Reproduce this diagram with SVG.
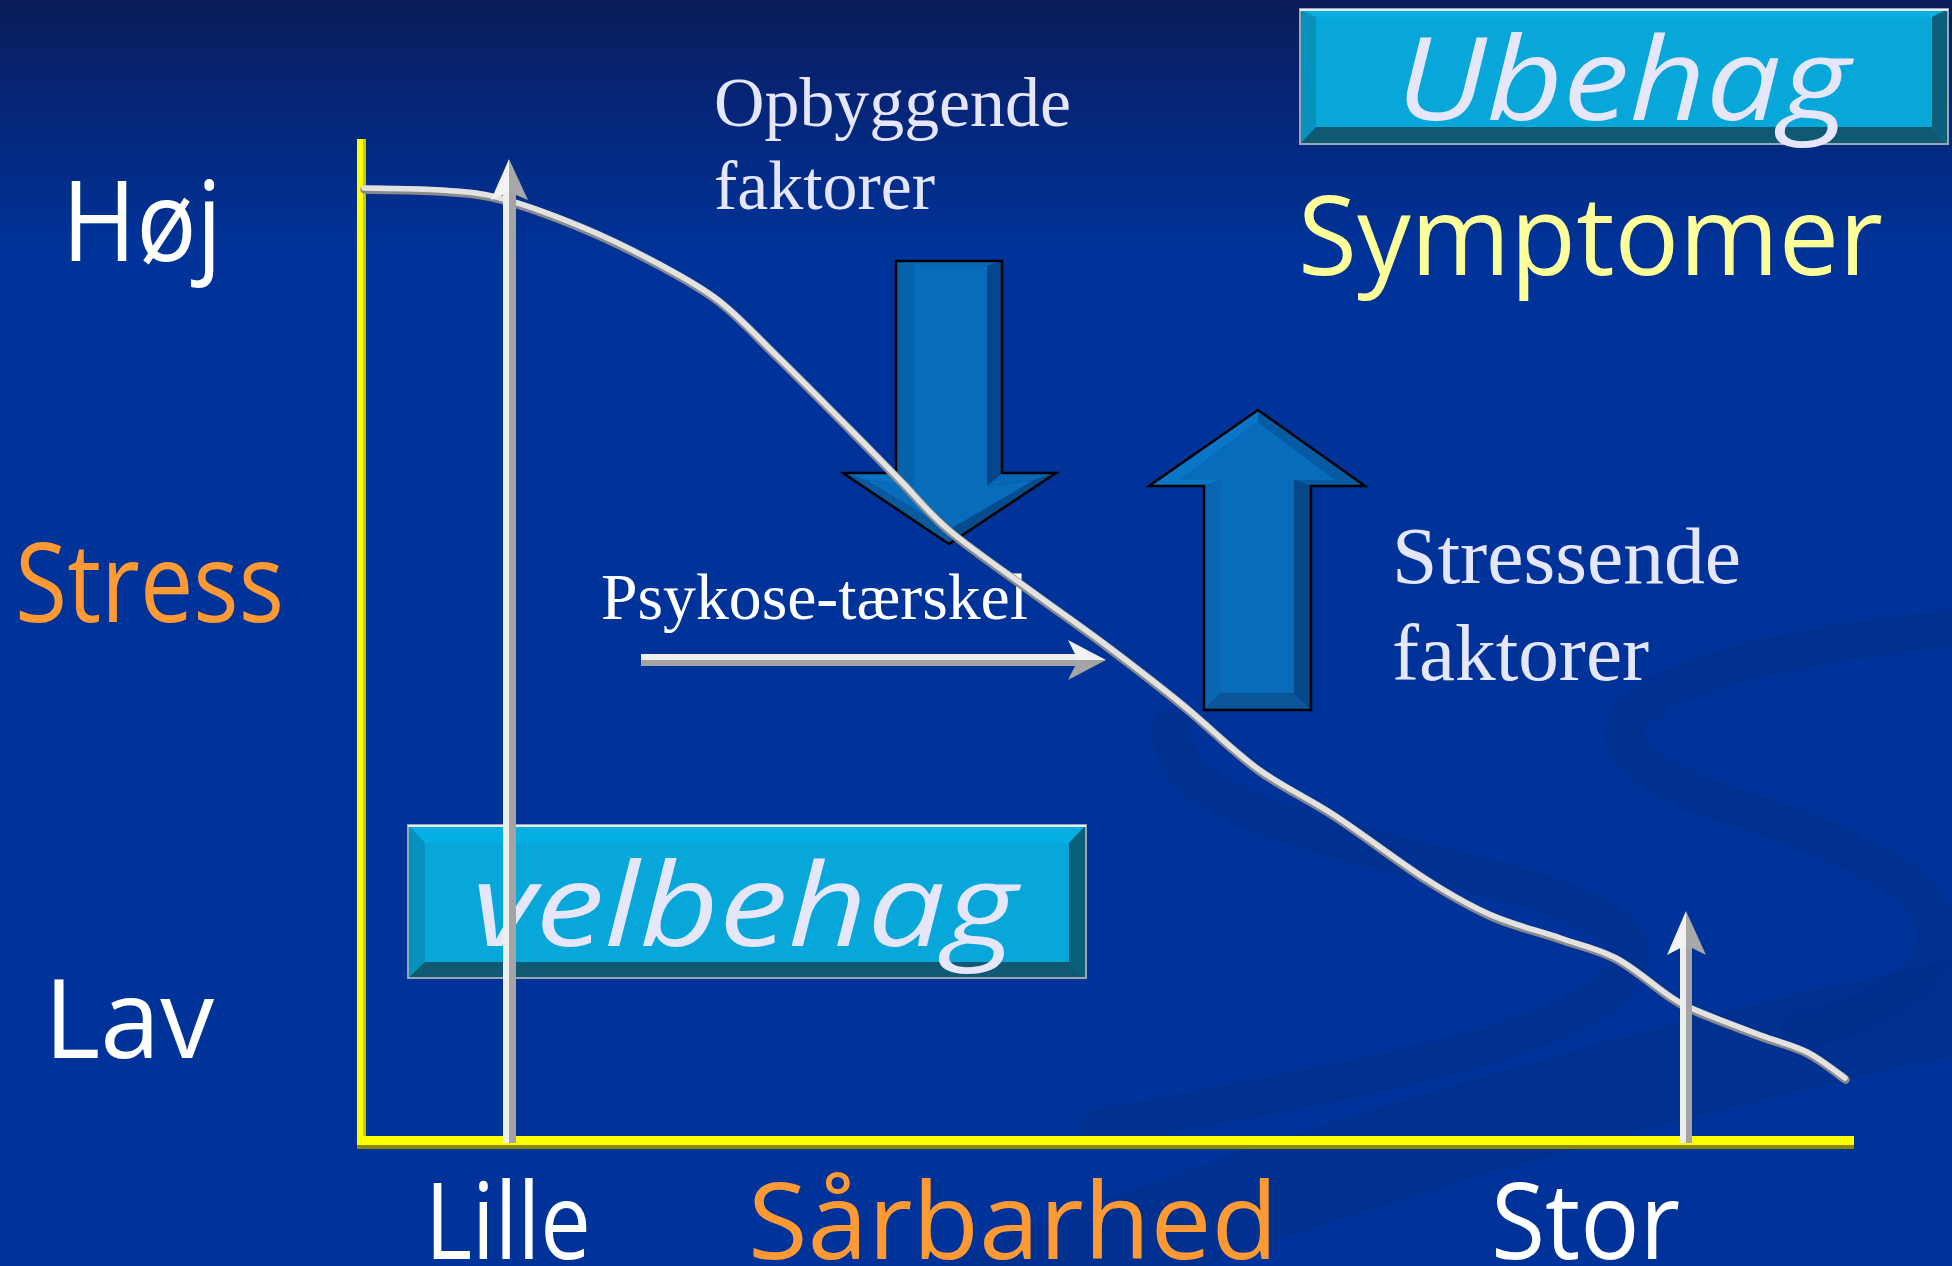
<svg xmlns="http://www.w3.org/2000/svg" width="1952" height="1266" viewBox="0 0 1952 1266">
<defs>
<linearGradient id="bg" x1="0" y1="0" x2="0" y2="1266" gradientUnits="userSpaceOnUse">
<stop offset="0" stop-color="#0a1c58"/>
<stop offset="0.08" stop-color="#062577"/>
<stop offset="0.2" stop-color="#003399"/>
<stop offset="1" stop-color="#003399"/>
</linearGradient>
<style>
.sans{font-family:"Open Sans","Liberation Sans",sans-serif;}
.serif{font-family:"Liberation Serif","Times New Roman",serif;fill:#e6e6fa;}
.white{fill:#ffffff;}
.orange{fill:#ff9933;}
.lav{fill:#e6e6fa;}
.swoosh{fill:none;stroke:#002e88;stroke-opacity:0.55;stroke-linecap:round;}
.hl{fill:#eeeeee;}
.sh{fill:#a4a4a4;}
.bout{fill:none;stroke:#000;stroke-width:2.5;stroke-linejoin:miter;}
</style>
</defs>
<rect x="0" y="0" width="1952" height="1266" fill="url(#bg)"/>
<g id="background-swooshes">
<path class="swoosh" stroke-width="95" d="M 980 1300 C 1300 1170 1650 1070 1990 1000"/>
<path class="swoosh" stroke-width="38" d="M 1171 727 C 1170 790 1260 822 1400 855 C 1520 885 1620 910 1630 950 C 1640 1000 1500 1050 1372 1075 C 1250 1100 1150 1118 1100 1128"/>
<path class="swoosh" stroke-width="38" d="M 1990 625 C 1800 640 1640 680 1625 725 C 1615 765 1680 790 1760 815 C 1880 855 1960 900 1930 960 C 1905 1000 1850 1020 1800 1030"/>
</g>

<g id="axes">
<rect x="357" y="139" width="9" height="1004" fill="#ffff00"/>
<rect x="363" y="139" width="3" height="1004" fill="#c8c800"/>
<rect x="357" y="1136" width="1497" height="9" fill="#ffff00"/>
<rect x="357" y="1145" width="1497" height="4" fill="#8a8a00"/>
</g>

<g id="node-ubehag">
<rect x="1300" y="9" width="648" height="135" fill="#07a7da"/>
<polygon points="1300,9 1948,9 1932,17 1316,17" fill="#03afe3"/>
<polygon points="1300,9 1316,17 1316,127 1300,144" fill="#0792bd"/>
<polygon points="1948,9 1932,17 1932,127 1948,144" fill="#0c5f7b"/>
<polygon points="1300,144 1316,127 1932,127 1948,144" fill="#0f5a72"/>
<rect x="1300" y="9" width="648" height="135" fill="none" stroke="#9aa6b4" stroke-width="2"/>
<line x1="1300" y1="10" x2="1948" y2="10" stroke="#e4ecf4" stroke-width="2"/>
<text class="sans lav" x="1396" y="120" font-size="116" font-style="italic" textLength="454" lengthAdjust="spacingAndGlyphs">Ubehag</text>
</g>

<g id="node-velbehag">
<rect x="408" y="825" width="678" height="153" fill="#07a7da"/>
<polygon points="408,825 1086,825 1069,843 425,843" fill="#03afe3"/>
<polygon points="408,825 425,843 425,962 408,978" fill="#0792bd"/>
<polygon points="1086,825 1069,843 1069,962 1086,978" fill="#0c5f7b"/>
<polygon points="408,978 425,962 1069,962 1086,978" fill="#0f5a72"/>
<rect x="408" y="825" width="678" height="153" fill="none" stroke="#9aa6b4" stroke-width="2"/>
<line x1="408" y1="826" x2="1086" y2="826" stroke="#e4ecf4" stroke-width="2"/>
<text class="sans lav" x="472" y="946" font-size="116" font-style="italic" textLength="545" lengthAdjust="spacingAndGlyphs">velbehag</text>
</g>

<g id="node-hoej"><text class="sans white" x="62" y="261" font-size="112" textLength="160" lengthAdjust="spacingAndGlyphs">Høj</text></g>
<g id="node-stress"><text class="sans orange" x="15" y="622" font-size="110" textLength="269" lengthAdjust="spacingAndGlyphs">Stress</text></g>
<g id="node-lav"><text class="sans white" x="44" y="1058" font-size="110" textLength="170" lengthAdjust="spacingAndGlyphs">Lav</text></g>
<g id="node-lille"><text class="sans white" x="425" y="1259" font-size="106" textLength="166" lengthAdjust="spacingAndGlyphs">Lille</text></g>
<g id="node-saarbarhed"><text class="sans orange" x="748" y="1259" font-size="106" textLength="530" lengthAdjust="spacingAndGlyphs">Sårbarhed</text></g>
<g id="node-stor"><text class="sans white" x="1491" y="1259" font-size="106" textLength="189" lengthAdjust="spacingAndGlyphs">Stor</text></g>
<g id="node-symptomer"><text class="sans" fill="#ffff99" x="1298" y="275" font-size="109" textLength="585" lengthAdjust="spacingAndGlyphs">Symptomer</text></g>

<g id="node-opbyggende">
<text class="serif" x="714" y="126" font-size="70" textLength="357" lengthAdjust="spacingAndGlyphs">Opbyggende</text>
<text class="serif" x="714" y="209" font-size="70" textLength="221" lengthAdjust="spacingAndGlyphs">faktorer</text>
</g>
<g id="node-stressende">
<text class="serif" x="1392" y="583" font-size="81" textLength="349" lengthAdjust="spacingAndGlyphs">Stressende</text>
<text class="serif" x="1392" y="680" font-size="81" textLength="257" lengthAdjust="spacingAndGlyphs">faktorer</text>
</g>
<g id="node-psykose">
<text class="serif" style="fill:#ffffff" x="601" y="619" font-size="66" textLength="427" lengthAdjust="spacingAndGlyphs">Psykose-tærskel</text>
</g>

<g id="node-down-arrow">
<polygon points="896,261 1002,261 987,266 914,266" fill="#0868b4"/>
<polygon points="896,261 914,266 914,486 896,473" fill="#0762ab"/>
<polygon points="1002,261 987,266 987,486 1002,473" fill="#05478a"/>
<polygon points="843,473 896,473 914,486 866,480" fill="#0a72c2"/>
<polygon points="843,473 866,480 949,530 949,544" fill="#0a5aa0"/>
<polygon points="1002,473 1056,473 1034,480 987,486" fill="#0867b3"/>
<polygon points="1056,473 949,544 949,530 1034,480" fill="#064c8c"/>
<polygon points="914,266 987,266 987,486 1034,480 949,530 866,480 914,486" fill="#076dba"/>
<polygon class="bout" points="896,261 1002,261 1002,473 1056,473 949,544 843,473 896,473"/>
</g>

<g id="node-up-arrow">
<polygon points="1149,486 1258,410 1258,422 1180,480 1221,480 1204,486" fill="#0a76c8"/>
<polygon points="1365,486 1258,410 1258,422 1336,480 1294,480 1311,486" fill="#075ba2"/>
<polygon points="1204,486 1221,480 1221,693 1204,710" fill="#0866b2"/>
<polygon points="1311,486 1294,480 1294,693 1311,710" fill="#05488a"/>
<polygon points="1204,710 1221,693 1294,693 1311,710" fill="#0a5598"/>
<polygon points="1258,422 1336,480 1294,480 1294,693 1221,693 1221,480 1180,480" fill="#076dba"/>
<polygon class="bout" points="1258,410 1365,486 1311,486 1311,710 1204,710 1204,486 1149,486"/>
</g>

<g id="connectors">
<g id="curve" fill="none" stroke-linecap="round" stroke-linejoin="round">
<path d="M 364 188 C 376.7 188.3 417.3 188.3 440 190 C 462.7 191.7 476.3 191.8 500 198 C 523.7 204.2 556.2 216.3 582 227 C 607.8 237.7 632.3 249.8 655 262 C 677.7 274.2 697.8 284.5 718 300 C 738.2 315.5 754.2 333.7 776 355 C 797.8 376.3 828.3 407.2 849 428 C 869.7 448.8 883.3 463 900 480 C 916.7 497 927.3 511.7 949 530 C 970.7 548.3 1003.8 570.8 1030 590 C 1056.2 609.2 1080.5 625.8 1106 645 C 1131.5 664.2 1157.7 684.3 1183 705 C 1208.3 725.7 1232.8 750.7 1258 769 C 1283.2 787.3 1306 796.7 1334 815 C 1362 833.3 1399.8 862.3 1426 879 C 1452.2 895.7 1468.7 905.2 1491 915 C 1513.3 924.8 1539.2 930.8 1560 938 C 1580.8 945.2 1597.5 948.2 1616 958 C 1634.5 967.8 1657.3 988.2 1671 997 C 1684.7 1005.8 1683.2 1004.7 1698 1011 C 1712.8 1017.3 1741.8 1028.2 1760 1035 C 1778.2 1041.8 1792.8 1044.8 1807 1052 C 1821.2 1059.2 1838.7 1073.7 1845 1078" stroke="#8a8a8a" stroke-width="8.5" transform="translate(0.5,1.5)"/>
<path d="M 364 188 C 376.7 188.3 417.3 188.3 440 190 C 462.7 191.7 476.3 191.8 500 198 C 523.7 204.2 556.2 216.3 582 227 C 607.8 237.7 632.3 249.8 655 262 C 677.7 274.2 697.8 284.5 718 300 C 738.2 315.5 754.2 333.7 776 355 C 797.8 376.3 828.3 407.2 849 428 C 869.7 448.8 883.3 463 900 480 C 916.7 497 927.3 511.7 949 530 C 970.7 548.3 1003.8 570.8 1030 590 C 1056.2 609.2 1080.5 625.8 1106 645 C 1131.5 664.2 1157.7 684.3 1183 705 C 1208.3 725.7 1232.8 750.7 1258 769 C 1283.2 787.3 1306 796.7 1334 815 C 1362 833.3 1399.8 862.3 1426 879 C 1452.2 895.7 1468.7 905.2 1491 915 C 1513.3 924.8 1539.2 930.8 1560 938 C 1580.8 945.2 1597.5 948.2 1616 958 C 1634.5 967.8 1657.3 988.2 1671 997 C 1684.7 1005.8 1683.2 1004.7 1698 1011 C 1712.8 1017.3 1741.8 1028.2 1760 1035 C 1778.2 1041.8 1792.8 1044.8 1807 1052 C 1821.2 1059.2 1838.7 1073.7 1845 1078" stroke="#e2e2e2" stroke-width="5.5"/>
</g>

<g id="arrow-lille">
<rect x="503" y="190" width="7" height="953" class="hl"/>
<rect x="509" y="190" width="7" height="953" class="sh"/>
<polygon points="509,159 491,200 509,192" fill="#f2f2f2"/>
<polygon points="509,159 528,200 509,192" fill="#a8a8a8"/>
</g>

<g id="arrow-stor">
<rect x="1680" y="945" width="7" height="198" class="hl"/>
<rect x="1686" y="945" width="6" height="198" class="sh"/>
<polygon points="1686,911 1667,955 1686,945" fill="#f2f2f2"/>
<polygon points="1686,911 1706,955 1686,945" fill="#a8a8a8"/>
</g>

<g id="arrow-psykose">
<rect x="641" y="654" width="440" height="7" class="hl"/>
<rect x="641" y="660" width="440" height="6" class="sh"/>
<polygon points="1106,660 1068,640 1078,660" fill="#f2f2f2"/>
<polygon points="1106,660 1068,680 1078,660" fill="#a4a4a4"/>
</g>
</g>
</svg>
